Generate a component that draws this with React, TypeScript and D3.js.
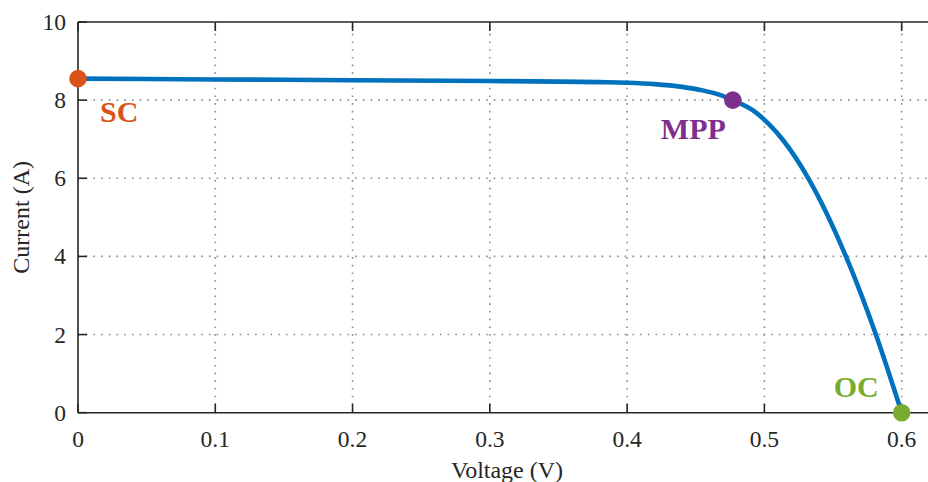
import React from "react";
import * as d3 from "d3";

const voltage = [0, 0.1, 0.2, 0.3, 0.35, 0.38, 0.4, 0.42, 0.44, 0.455, 0.467, 0.477, 0.4917, 0.504, 0.5135, 0.532, 0.5594, 0.5812, 0.6];
const current = [8.55, 8.53, 8.51, 8.49, 8.475, 8.46, 8.445, 8.41, 8.34, 8.25, 8.14, 8.0, 7.74, 7.36, 6.98, 6.0, 4.0, 2.0, 0];

const keyLabels = ["SC", "MPP", "OC"];
const keyVoltage = [0, 0.477, 0.6];
const keyCurrent = [8.55, 8.0, 0];
const keyColors = ["#D95319", "#7E2F8E", "#77AC30"];

const xTicks = [0, 0.1, 0.2, 0.3, 0.4, 0.5, 0.6];
const yTicks = [0, 2, 4, 6, 8, 10];

const W = 928, H = 482;
const M = { left: 78, top: 22, right: 936, bottom: 412.7 };
const FONT = "'Liberation Serif', 'Times New Roman', serif";

export default function App() {
  const x = d3.scaleLinear().domain([0, 0.625]).range([M.left, M.right]);
  const y = d3.scaleLinear().domain([0, 10]).range([M.bottom, M.top]);
  const pts = voltage.map((v, i) => [v, current[i]] as [number, number]);
  const line = d3.line<[number, number]>().x(d => x(d[0])).y(d => y(d[1])).curve(d3.curveMonotoneX);
  const axisColor = "#262626";
  const labelOffsets = [
    { dx: 22, dy: 43, anchor: "start" },
    { dx: -7, dy: 39, anchor: "end" },
    { dx: -23, dy: -16, anchor: "end" },
  ];
  return (
    <svg width={W} height={H} style={{ position: "absolute", left: 0, top: 0, background: "#fff" }} fontFamily={FONT}>
      <rect width={W} height={H} fill="#fff" />
      {/* grid */}
      <g stroke="#8c8c8c" strokeWidth={1.6} strokeDasharray="1.6 6.1">
        {xTicks.filter(t => t > 0).map(t => (
          <line key={"gx" + t} x1={x(t)} x2={x(t)} y1={M.bottom} y2={M.top} />
        ))}
        {yTicks.filter(t => t > 0 && t < 10).map(t => (
          <line key={"gy" + t} x1={M.left} x2={M.right} y1={y(t)} y2={y(t)} />
        ))}
      </g>
      {/* axes box */}
      <g stroke={axisColor} strokeWidth={1.6}>
        <line x1={M.left} x2={M.right} y1={M.bottom} y2={M.bottom} />
        <line x1={M.left} x2={M.right} y1={M.top} y2={M.top} />
        <line x1={M.left} x2={M.left} y1={M.top} y2={M.bottom} />
        {xTicks.map(t => (
          <g key={"tx" + t}>
            <line x1={x(t)} x2={x(t)} y1={M.bottom} y2={M.bottom - 9} />
            <line x1={x(t)} x2={x(t)} y1={M.top} y2={M.top + 9} />
          </g>
        ))}
        {yTicks.map(t => (
          <line key={"ty" + t} x1={M.left} x2={M.left + 9} y1={y(t)} y2={y(t)} />
        ))}
      </g>
      <g fill={axisColor} fontSize={23.5}>
        {xTicks.map(t => (
          <text key={"lx" + t} x={x(t)} y={447} textAnchor="middle">{d3.format("~g")(t)}</text>
        ))}
        {yTicks.map(t => (
          <text key={"ly" + t} x={M.left - 12} y={y(t) + 8} textAnchor="end">{t}</text>
        ))}
        <text x={(M.left + M.right) / 2} y={478} textAnchor="middle" fontSize={24}>Voltage (V)</text>
        <text transform={`translate(${29},${(M.top + M.bottom) / 2}) rotate(-90)`} textAnchor="middle" fontSize={24}>Current (A)</text>
      </g>
      {/* curve */}
      <path d={line(pts) || ""} fill="none" stroke="#0072BD" strokeWidth={4.6} />
      {/* key points */}
      {keyLabels.map((lab, i) => {
        const px = x(keyVoltage[i]), py = y(keyCurrent[i]);
        const o = labelOffsets[i];
        return (
          <g key={lab}>
            <circle cx={px} cy={py} r={8.8} fill={keyColors[i]} />
            <text x={px + o.dx} y={py + o.dy} textAnchor={o.anchor as any} fill={keyColors[i]} fontSize={30} fontWeight="bold">{lab}</text>
          </g>
        );
      })}
    </svg>
  );
}
